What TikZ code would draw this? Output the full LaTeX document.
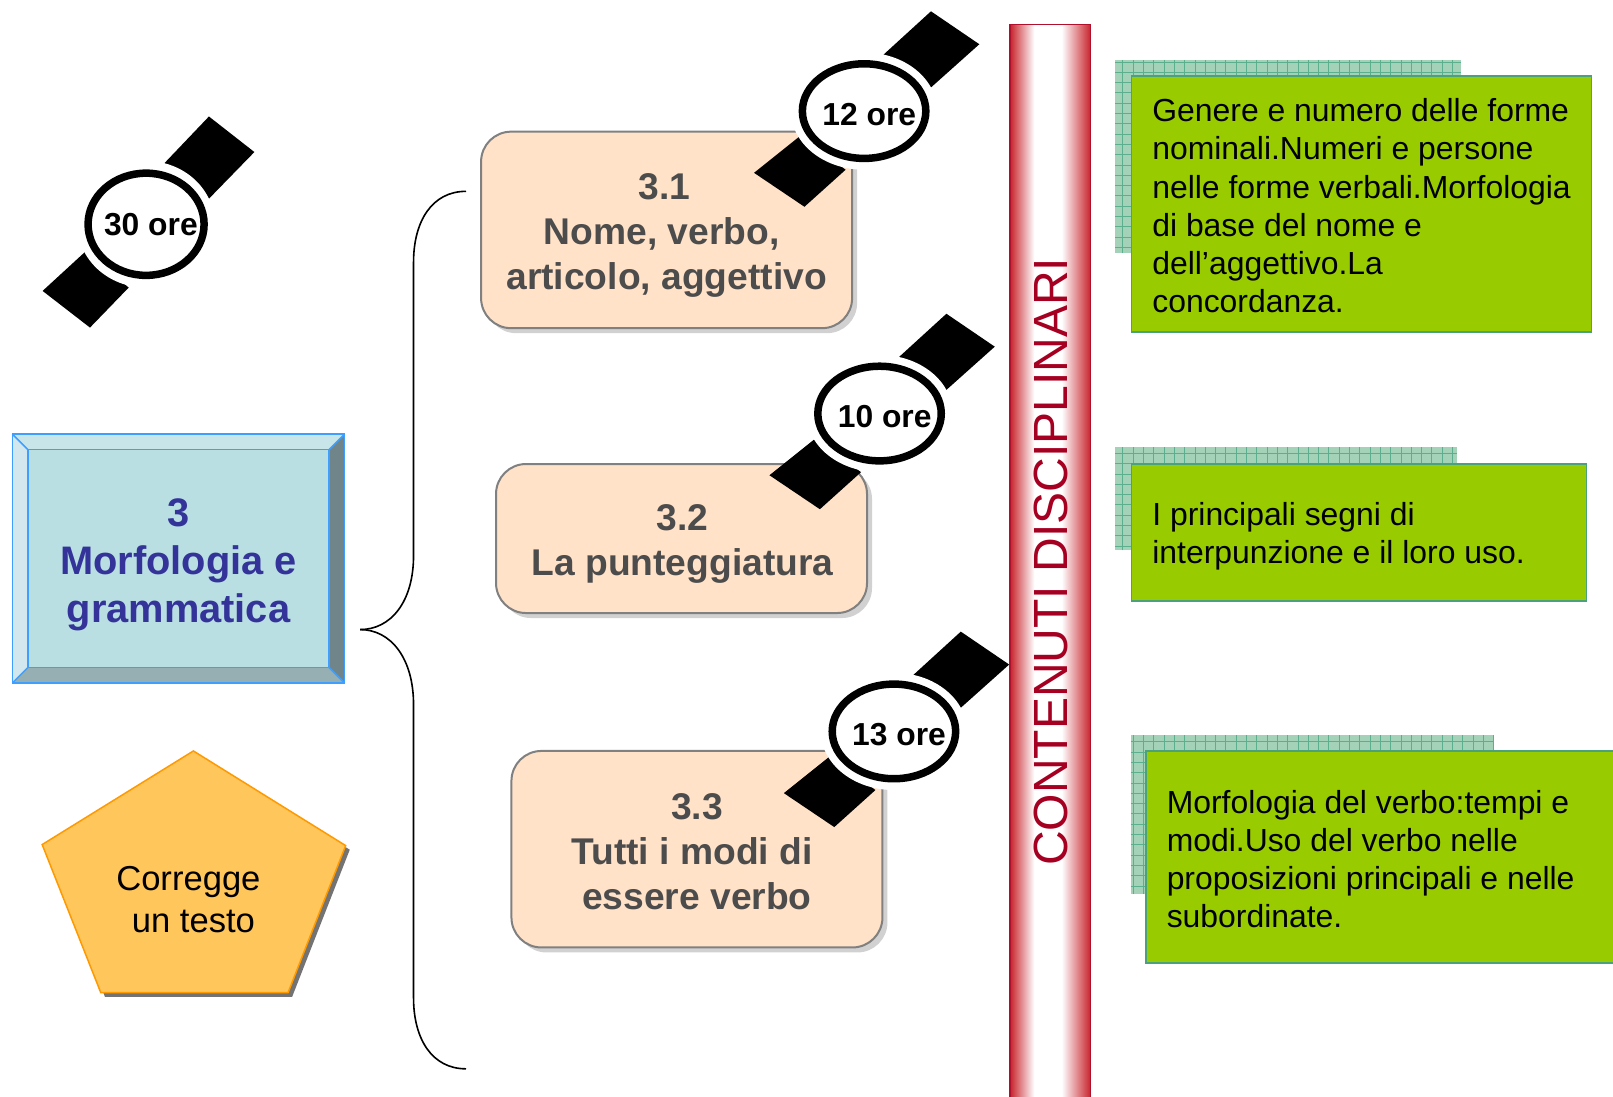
\documentclass[tikz,border=0pt]{standalone}
\usepackage{fontspec}
\setmainfont{Liberation Sans}
\usepackage{xcolor}
\usetikzlibrary{shadows}
\definecolor{peach}{HTML}{FFE2C8}
\definecolor{leaf}{HTML}{99CC00}
\definecolor{leafedge}{HTML}{4BA27A}
\definecolor{mint}{HTML}{A3D2B9}
\definecolor{mintline}{HTML}{5CAF8C}
\definecolor{barred}{HTML}{C8252D}
\definecolor{baredge}{HTML}{B0102B}
\definecolor{barink}{HTML}{A50021}
\definecolor{navy}{HTML}{333399}
\definecolor{skyedge}{HTML}{3F9FFF}
\definecolor{skyface}{HTML}{B9DFE3}
\definecolor{skytop}{HTML}{C8E5E9}
\definecolor{skyleft}{HTML}{D2E8EE}
\definecolor{skyright}{HTML}{6F8589}
\definecolor{skybottom}{HTML}{96AFB2}
\pgfdeclarehorizontalshading{barshade}{100bp}{color(0bp)=(barred); color(25bp)=(barred); color(40bp)=(white); color(57bp)=(white); color(75bp)=(barred); color(100bp)=(barred)}
\tikzstyle{lesson} =[draw=black!50, line width=2pt, fill=peach, rounded corners=30pt, minimum width=371pt, inner sep=0pt, drop shadow={shadow xshift=5pt, shadow yshift=-5pt, fill=black!18, opacity=1}]
\tikzstyle{lessontext} =[inner sep=0pt, align=center, text=black!70, font=\fontsize{37.2}{45}\selectfont\bfseries]
\tikzstyle{content} =[draw=leafedge, line width=1.5pt, fill=leaf, inner sep=0pt]
\tikzstyle{contenttext} =[anchor=west, inner sep=0pt, align=left, font=\fontsize{31.9}{38.2}\selectfont]
\tikzstyle{hatch} =[fill=mint]
\tikzstyle{hatchgrid} =[draw=mintline, line width=0.6pt, step=10.3pt]
\tikzstyle{brace} =[draw=black, line width=1.6pt]
\tikzstyle{bevel} =[draw=skyedge, line width=1.5pt]

\begin{document}
\begin{tikzpicture}[x=1.0287pt,y=-1.0287pt]
		\useasboundingbox (0,0) rectangle (1568,1066);

		% brace
		\coordinate (braceT) at (453,186);
		\coordinate (braceM) at (350,612);
		\coordinate (braceB) at (453,1039);
		\draw[brace] (braceT) .. controls (420,186) and (402,215) .. (402,255) -- (402,540) .. controls (402,585) and (380,612) .. (braceM);
		\draw[brace] (braceM) .. controls (380,612) and (402,640) .. (402,685) -- (402,970) .. controls (402,1010) and (420,1039) .. (braceB);

		% topic box
		\fill[skytop] (12,422) -- (335,422) -- (320,437) -- (27,437) -- cycle;
		\fill[skyleft] (12,422) -- (27,437) -- (27,649) -- (12,664) -- cycle;
		\fill[skyright] (335,422) -- (335,664) -- (320,649) -- (320,437) -- cycle;
		\fill[skybottom] (12,664) -- (27,649) -- (320,649) -- (335,664) -- cycle;
		\draw[bevel,fill=skyface] (27,437) rectangle (320,649);
		\draw[bevel] (12,422) rectangle (335,664);
		\draw[bevel] (12,422) -- (27,437) (335,422) -- (320,437) (12,664) -- (27,649) (335,664) -- (320,649);
		\node (topic)[inner sep=0pt,
		align=center,
		text=navy,
		font=\fontsize{39.8}{48}\selectfont\bfseries] at (173.5,549) {3\\Morfologia e\\grammatica};

		% pentagon
		\fill[black!55] (192,734) -- (340,826) -- (284,969) -- (102,969) -- (45,825) -- cycle;
		\draw[fill={rgb,255:red,255;green,198;blue,92},draw={rgb,255:red,255;green,153;blue,0},line width=1.5pt] (188,730) -- (336,822) -- (280,965) -- (98,965) -- (41,821) -- cycle;
		\node (skill)[align=center,inner sep=0pt,font=\fontsize{34.6}{42}\selectfont] at (188,874) {Corregge\hspace*{10pt}\\un testo};

		% lessons
		\node (les1)[lesson,minimum height=196.5pt] at (648,223.5) {};
		\node (les2)[lesson,minimum height=149pt] at (662.5,523.5) {};
		\node (les3)[lesson,minimum height=196.5pt] at (677.5,825.5) {};
		\node (les1txt)[lessontext] at (648,229) {3.1\kern4pt\mbox{}\\Nome, verbo,\kern10pt\mbox{}\\articolo, aggettivo};
		\node (les2txt)[lessontext] at (663.5,529) {3.2\\La punteggiatura};
		\node (les3txt)[lessontext] at (677.5,828) {3.3\\Tutti i modi di\kern10pt\mbox{}\\essere verbo};

		% bar
		\draw[draw=baredge,line width=1.5pt,shading=barshade] (982,24) rectangle (1060,1080);
		\node (bar)[rotate=90,inner sep=0pt,text=barink,font=\fontsize{48}{50}\selectfont] at (1022,546) {CONTENUTI DISCIPLINARI};

		% hatched backs
		\fill[hatch] (1084,58) rectangle (1420,246);
		\draw[hatchgrid] (1084,58) grid (1420,246);
		\fill[hatch] (1084,435) rectangle (1416,535);
		\draw[hatchgrid] (1084,435) grid (1416,535);
		\fill[hatch] (1099,714) rectangle (1452,869);
		\draw[hatchgrid] (1099,714) grid (1452,869);

		% contents
		\node (box1)[content,minimum width=460pt,minimum height=256pt] at (1323.5,198.5) {};
		\node (box2)[content,minimum width=455pt,minimum height=137pt] at (1321,517.5) {};
		\node (box3)[content,minimum width=481pt,minimum height=212pt] at (1348,833) {};
		\node (txt1)[contenttext] at (1120,200) {Genere e numero delle forme\\nominali.Numeri e persone\\nelle forme verbali.Morfologia\\di base del nome e\\dell’aggettivo.La\\concordanza.};
		\node (txt2)[contenttext] at (1120,521) {I principali segni di\\interpunzione e il loro uso.};
		\node (txt3)[contenttext] at (1134,835) {Morfologia del verbo:tempi e\\modi.Uso del verbo nelle\\proposizioni principali e nelle\\subordinate.};

		% watches
		\foreach \cx/\cy/\sx/\sy/\ty/\hrs in {142/218/0.94/1.08/0/30, 840/108/1/1/3/12, 855/402/1/1/3/10, 869/711/1/1/3/13}{
			\begin{scope}[shift={(\cx,\cy)},xscale=\sx,yscale=\sy]
				\fill[black] (65,-97) -- (112,-65) -- (65,-23) -- (19,-55) -- cycle;
				\fill[black] (-58,93) -- (-107,60) -- (-62,24) -- (-18,57) -- cycle;
				\fill[white] (0,0) ellipse (71 and 57);
				\draw[black,line width=7.5pt,fill=white] (0,0) ellipse (60 and 46);
				\node (ore\hrs)[inner sep=0pt,font=\fontsize{31.8}{36}\selectfont\bfseries] at (5,\ty) {\hrs\ ore};
			\end{scope}
		}
\end{tikzpicture}
\end{document}
